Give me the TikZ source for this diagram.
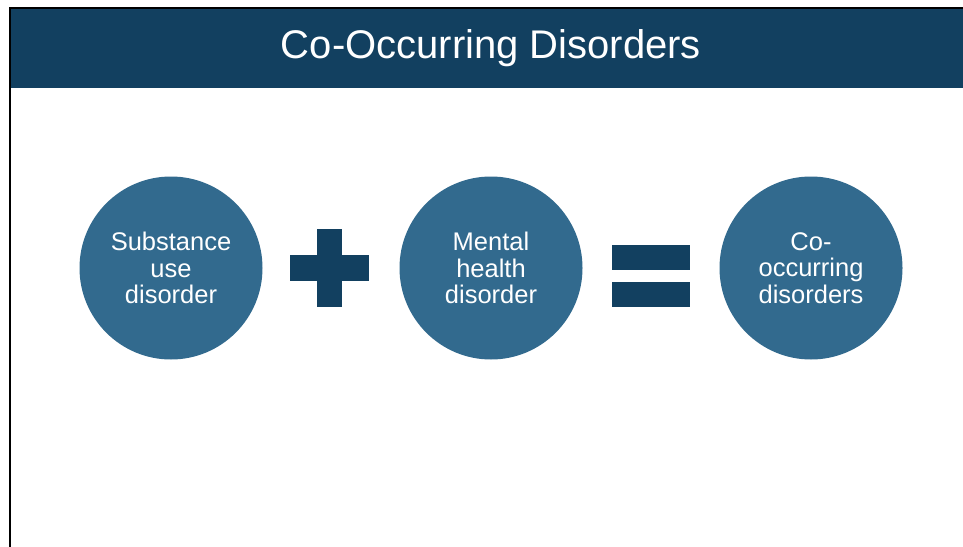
\documentclass[tikz,border=0pt]{standalone}
\usepackage{fontspec}
\setmainfont{Liberation Sans}
\definecolor{banner}{RGB}{18,64,96}
\definecolor{disc}{RGB}{50,106,142}
\begin{document}
\begin{tikzpicture}[x=1pt,y=-1pt,
  discnode/.style={circle,fill=disc,minimum size=183pt,inner sep=0pt,text=white,align=center,
    font=\fontsize{25.5}{26.4}\selectfont},
  sign/.style={fill=banner,draw=none}]
\useasboundingbox[fill=white] (0,0) rectangle (963,546);
\fill[banner] (11,9) rectangle (963,88);
\draw[line width=2.5pt,line cap=rect] (10,546) -- (10,8) -- (963,8);
\node[anchor=base,text=white,font=\fontsize{40}{41}\selectfont] (title) at (491,58) {Co-Occurring Disorders};
\node[discnode] (sud) at (171,268) {Substance\\use\\disorder};
\node[discnode] (mhd) at (491,268) {Mental\\health\\disorder};
\node[discnode] (cod) at (811,268) {Co-\\occurring\\disorders};
% plus sign
\fill[sign] (290,255) rectangle (369,281);
\fill[sign] (317,229) rectangle (342,307);
% equals sign
\fill[sign] (612,245) rectangle (690,270);
\fill[sign] (612,282) rectangle (690,307);
\end{tikzpicture}
\end{document}
